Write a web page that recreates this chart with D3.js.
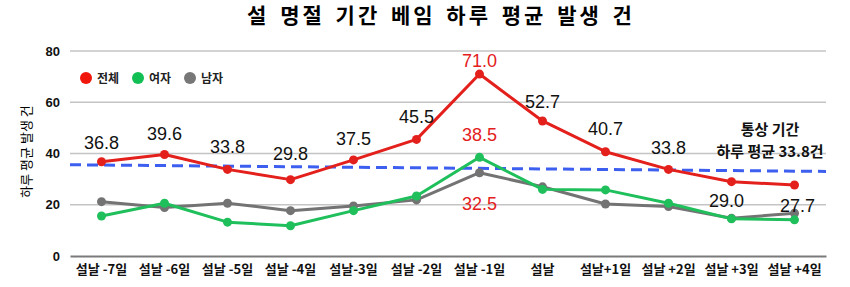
<!DOCTYPE html>
<html>
<head>
<meta charset="utf-8">
<script src="https://cdn.jsdelivr.net/npm/d3@7"></script>
<style>
  body { margin: 0; background: #fff; }
  text { font-family: "Liberation Sans", Arial, "Noto Sans CJK KR", sans-serif; }
  .kr { font-family: "Noto Sans CJK KR", sans-serif; }
</style>
</head>
<body>
<svg id="chart"></svg>
<script>
const categories = ["설날 -7일", "설날 -6일", "설날 -5일", "설날 -4일", "설날-3일", "설날 -2일",
  "설날 -1일", "설날", "설날+1일", "설날 +2일", "설날 +3일", "설날 +4일"];
const total = [36.8, 39.6, 33.8, 29.8, 37.5, 45.5, 71.0, 52.7, 40.7, 33.8, 29.0, 27.7];
const female = [15.6, 20.6, 13.2, 11.8, 17.7, 23.4, 38.5, 26.0, 25.8, 20.6, 14.5, 14.1];
const male = [21.2, 18.9, 20.6, 17.7, 19.5, 21.9, 32.5, 27.0, 20.3, 19.3, 14.7, 16.7];
const avgLine = [35.6, 33.0];   // dashed reference line, left and right end
const yTicks = [0, 20, 40, 60, 80];

const width = 850, height = 287;
const margin = { top: 51, right: 24, bottom: 31, left: 70 };

const svg = d3.select("#chart").attr("width", width).attr("height", height);
const innerW = width - margin.left - margin.right;
const innerH = height - margin.top - margin.bottom;
const chart = svg.append("g").attr("transform", `translate(${margin.left}, ${margin.top})`);

const x = d3.scaleBand().domain(categories).range([0, innerW]);
const cx = d => x(d) + x.bandwidth() / 2;
const y = d3.scaleLinear().domain([0, 80]).range([innerH, 0]);

// title
svg.append("text").attr("class", "kr")
  .attr("x", 441).attr("y", 23)
  .attr("text-anchor", "middle")
  .attr("font-size", 21).attr("font-weight", "bold")
  .attr("letter-spacing", 3).attr("word-spacing", 3)
  .text("설 명절 기간 베임 하루 평균 발생 건");

// grid
chart.selectAll("line.grid").data(yTicks.filter(d => d > 0)).join("line")
  .attr("class", "grid")
  .attr("x1", 0).attr("x2", innerW)
  .attr("y1", d => y(d)).attr("y2", d => y(d))
  .attr("stroke", "#c4c4c4").attr("stroke-width", 1.5);

// y axis
const yAxis = chart.append("g")
  .call(d3.axisLeft(y).tickValues(yTicks).tickSize(0).tickPadding(10));
yAxis.select(".domain").remove();
yAxis.selectAll("text").attr("font-size", 13).attr("font-weight", "bold").attr("fill", "#111");

// x axis
const xAxis = chart.append("g")
  .attr("transform", `translate(0, ${innerH})`)
  .call(d3.axisBottom(x).tickSize(0).tickPadding(9));
xAxis.select(".domain").attr("stroke", "#7a7a7a").attr("stroke-width", 2);
xAxis.selectAll("text").attr("class", "kr").attr("font-size", 13).attr("font-weight", "bold").attr("fill", "#111");

// y label
svg.append("text").attr("class", "kr")
  .attr("transform", "rotate(-90)")
  .attr("x", -(margin.top + innerH / 2) + 2).attr("y", 31)
  .attr("text-anchor", "middle")
  .attr("font-size", 13)
  .text("하루 평균 발생 건");

// dashed average line
chart.append("line")
  .attr("x1", 0).attr("x2", innerW)
  .attr("y1", y(avgLine[0])).attr("y2", y(avgLine[1]))
  .attr("stroke", "#3d5ff0").attr("stroke-width", 3)
  .attr("stroke-dasharray", "11,6");

const series = [
  { name: "남자", values: male, color: "#737373" },
  { name: "여자", values: female, color: "#1fbf5c" },
  { name: "전체", values: total, color: "#e3201c" }
];

const line = d3.line().x((d, i) => cx(categories[i])).y(d => y(d));

series.forEach(s => {
  chart.append("path").datum(s.values)
    .attr("d", line)
    .attr("fill", "none")
    .attr("stroke", s.color).attr("stroke-width", 3)
    .attr("stroke-linejoin", "round");
  chart.selectAll(null).data(s.values).join("circle")
    .attr("cx", (d, i) => cx(categories[i]))
    .attr("cy", d => y(d))
    .attr("r", 4.5)
    .attr("fill", s.color);
});

// value labels for 전체
const labelDy = [-13, -15, -16, -20, -15, -16, -7, -13, -17, -15, 25, 27];
const labelDx = [0, 0, 0, 0, 0, 0, 0, 0, 0, 0, -5, 3];
chart.selectAll("text.val").data(total).join("text")
  .attr("class", "val")
  .attr("x", (d, i) => cx(categories[i]) + labelDx[i])
  .attr("y", (d, i) => y(d) + labelDy[i])
  .attr("text-anchor", "middle")
  .attr("font-size", 18)
  .attr("fill", (d, i) => i === 6 ? "#e3201c" : "#111")
  .text(d => d.toFixed(1));

// peak labels for 여자 / 남자 at 설날 -1일
chart.append("text")
  .attr("x", cx(categories[6])).attr("y", y(female[6]) - 16)
  .attr("text-anchor", "middle").attr("font-size", 18).attr("fill", "#e3201c")
  .text(female[6].toFixed(1));
chart.append("text")
  .attr("x", cx(categories[6])).attr("y", y(male[6]) + 37)
  .attr("text-anchor", "middle").attr("font-size", 18).attr("fill", "#e3201c")
  .text(male[6].toFixed(1));

// note
const note = svg.append("text").attr("class", "kr")
  .attr("text-anchor", "middle").attr("font-size", 15).attr("font-weight", "bold").attr("fill", "#111");
note.append("tspan").attr("x", 770).attr("y", 135).text("통상 기간");
note.append("tspan").attr("x", 770).attr("y", 157).text("하루 평균 33.8건");

// legend
const legend = svg.append("g").attr("transform", "translate(86, 78)");
const legendItems = [
  { name: "전체", color: "#f0160c", dx: 0 },
  { name: "여자", color: "#12bf55", dx: 52 },
  { name: "남자", color: "#777", dx: 104 }
];
legendItems.forEach(d => {
  legend.append("circle").attr("cx", d.dx).attr("cy", 0).attr("r", 6).attr("fill", d.color);
  legend.append("text").attr("class", "kr")
    .attr("x", d.dx + 11).attr("y", 4.5)
    .attr("font-size", 12).attr("font-weight", "bold").attr("fill", "#222")
    .text(d.name);
});
</script>
</body>
</html>
